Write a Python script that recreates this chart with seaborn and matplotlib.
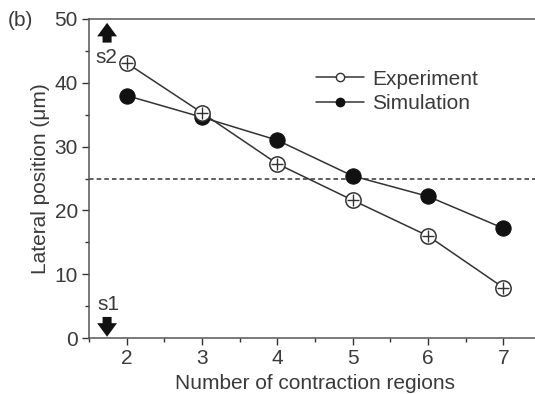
import matplotlib
matplotlib.use("Agg")
import matplotlib.pyplot as plt
import seaborn as sns
import pandas as pd
from matplotlib.lines import Line2D

regions = [2, 3, 4, 5, 6, 7]
experiment = [43.1, 35.3, 27.3, 21.6, 16.0, 7.9]
simulation = [38.0, 34.6, 31.0, 25.4, 22.2, 17.2]
threshold = 25
xtick_labels = ["2", "3", "4", "5", "6", "7"]

sns.set_style("ticks")
plt.rcParams['font.family'] = ['Liberation Sans', 'DejaVu Sans']

dark = '#333333'
txt = '#3a3a3a'
fs = 15

df = pd.DataFrame({
    "regions": regions * 2,
    "pos": experiment + simulation,
    "series": ["Experiment"] * 6 + ["Simulation"] * 6,
})

fig = plt.figure(figsize=(5.35, 3.94), dpi=100)
ax = fig.add_axes([89/535, 1 - 338/394, (541-89)/535, (338-19)/394])

ax.axhline(threshold, color=dark, ls=(0, (3, 2)), lw=1.1, zorder=1)

sns.lineplot(data=df[df.series == "Simulation"], x="regions", y="pos", ax=ax,
             color=dark, lw=1.1, marker='o', markersize=11,
             markerfacecolor='#111111', markeredgecolor='#111111', zorder=2, legend=False)
sns.lineplot(data=df[df.series == "Experiment"], x="regions", y="pos", ax=ax,
             color=dark, lw=1.1, marker='o', markersize=11,
             markerfacecolor='white', markeredgecolor=dark, markeredgewidth=1.1,
             zorder=3, legend=False)
ax.plot(regions, experiment, ls='none', marker='+', ms=8, mew=1.0, color=dark, zorder=4)

ax.set_xlim(1.5, 7.5)
ax.set_ylim(0, 50)
ax.set_xticks(regions)
ax.set_xticklabels(xtick_labels)
ax.set_yticks([0, 10, 20, 30, 40, 50])
ax.set_xticks([1.5 + 0.5 * i for i in range(13)], minor=True)
ax.set_yticks([5, 15, 25, 35, 45], minor=True)
ax.tick_params(axis='both', which='major', direction='out', length=5, width=1,
               colors=dark, labelsize=fs, labelcolor=txt, pad=3)
ax.tick_params(axis='both', which='minor', direction='out', length=3, width=1, colors=dark)
for s in ax.spines.values():
    s.set_color('#555555')
    s.set_linewidth(1.1)

ax.set_xlabel("Number of contraction regions", fontsize=fs, color=txt, labelpad=4)
ax.set_ylabel("Lateral position (μm)", fontsize=fs, color=txt, labelpad=3)

# s2 / s1 annotations with arrows
astyle = 'simple,head_width=1.1,head_length=0.75,tail_width=0.5'
ax.annotate("", xy=(1.74, 49.4), xytext=(1.74, 46.3),
            arrowprops=dict(arrowstyle=astyle, color='#111111', lw=0,
                            mutation_scale=13, shrinkA=0, shrinkB=0))
ax.text(1.59, 43.9, "s2", fontsize=fs, color=txt, ha='left', va='center')
ax.text(1.61, 5.2, "s1", fontsize=fs, color=txt, ha='left', va='center')
ax.annotate("", xy=(1.74, 0.2), xytext=(1.74, 3.3),
            arrowprops=dict(arrowstyle=astyle, color='#111111', lw=0,
                            mutation_scale=13, shrinkA=0, shrinkB=0))

fig.text(8/535, 1 - 20/394, "(b)", fontsize=fs, color=txt, ha='left', va='center')

handles = [
    Line2D([], [], color=dark, lw=1.1, marker='o', ms=6, mfc='white', mec=dark),
    Line2D([], [], color=dark, lw=1.1, marker='o', ms=6, mfc='#111111', mec='#111111'),
]
leg = ax.legend(handles, ["Experiment", "Simulation"], loc='upper left',
                bbox_to_anchor=(0.46, 0.90), frameon=False, fontsize=fs,
                handlelength=2.3, handletextpad=0.4, labelspacing=0.25)
for t in leg.get_texts():
    t.set_color(txt)

fig.savefig("out.png", dpi=100)
